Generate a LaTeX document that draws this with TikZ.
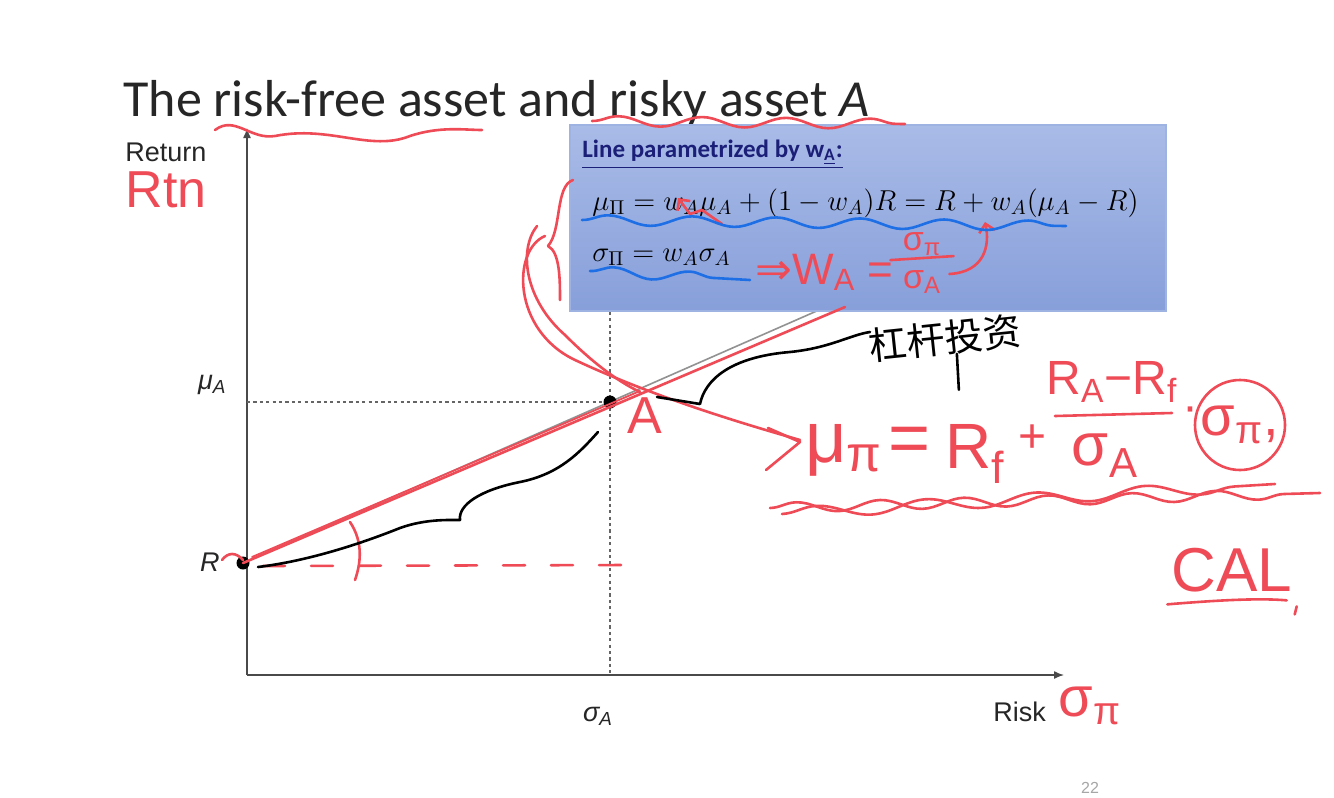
\documentclass[tikz,border=0pt]{standalone}
\usepackage[no-math]{fontspec}
\setmainfont{Liberation Sans}
\newfontfamily\slidefont{Carlito}
\newfontfamily\handfont{Liberation Sans}
\newfontfamily\symfont{DejaVu Sans}
\newfontfamily\cjk{Noto Sans CJK SC}
\usepackage{xcolor}
\definecolor{cAxis}{HTML}{4A4A4A}
\definecolor{cInk}{HTML}{EE4B57}
\definecolor{cPen}{HTML}{1E6FE6}
\definecolor{cNavy}{HTML}{1B1F78}
\definecolor{cBoxTop}{HTML}{A9BBE7}
\definecolor{cBoxBot}{HTML}{879FDA}
\definecolor{cBoxEdge}{HTML}{9FB3E2}
\usepackage{tikz}
\usetikzlibrary{positioning,arrows.meta,fit,calc,decorations.pathmorphing}
\newcommand\sizeto[1]{\fontsize{#1}{#1}\selectfont}
\tikzset{
  slide-title/.style={anchor=base west,inner sep=0pt,text=black!85,
    font=\slidefont\sizeto{26}},
  axis-label/.style={inner sep=0pt,text=black!85,font=\sizeto{13.5}},
  axis-line/.style={draw=cAxis,line width=0.7pt,-{Latex[length=5pt,width=4pt]}},
  guide-dotted/.style={draw=cAxis!85,line width=0.6pt,dash pattern=on 1.6pt off 1.6pt},
  dot-point/.style={circle,fill=black,inner sep=0pt,minimum size=6.5pt},
  param-box/.style={draw=cBoxEdge,line width=0.8pt,inner sep=0pt,
    top color=cBoxTop,bottom color=cBoxBot},
  eq-text/.style={anchor=base west,inner sep=0pt,font=\sizeto{14.4}},
  % handwriting on top of the slide
  ink-red/.style={draw=cInk,line width=1.3pt,line cap=round,line join=round},
  ink-blue/.style={draw=cPen,line width=1.3pt,line cap=round,line join=round},
  ink-black/.style={draw=black,line width=1.3pt,line cap=round,line join=round},
  ink-wave/.style={decorate,decoration={snake,amplitude=2.5pt,segment length=42pt}},
  hand-text/.style={inner sep=0pt,text=cInk,font=\handfont\sizeto{30}},
}

\begin{document}
\begin{tikzpicture}[x=0.5pt,y=-0.5pt]
  \useasboundingbox[fill=white] (0,0) rectangle (1334,798);
  \node[slide-title] (title) at (123,116) {The risk-free asset and risky asset \textit{A}};

  % axes and guides
  \coordinate (origin) at (247,675);
  \coordinate (yTop) at (247,128);
  \coordinate (xEnd) at (1064,675);
  \coordinate (ptR) at (243,563);
  \coordinate (ptA) at (610,402);
  \coordinate (lineEnd) at (819,310);
  \draw[axis-line] (origin) -- (yTop);
  \draw[axis-line] (origin) -- (xEnd);
  \node[axis-label,anchor=base west] (lblReturn) at (125,161) {Return};
  \node[axis-label,anchor=base west] (lblRisk) at (993,721) {Risk};
  \node[axis-label,anchor=base east] (lblMuA) at (227,389) {\itshape μ\textsubscript{A}};
  \node[axis-label,anchor=base east] (lblR) at (220,571) {\itshape R};
  \node[axis-label,anchor=base] (lblSigA) at (598,721) {\itshape σ\textsubscript{A}};
  \draw[guide-dotted] (ptA -| origin) -- (ptA);
  \draw[draw=cAxis!60,line width=0.8pt] (ptR) -- (lineEnd);

  % parameter box
  \node[param-box,fit={(570,125) (1166,311)}] (boxLine) {};
  \draw[guide-dotted] (ptA |- boxLine.south) -- (ptA |- origin);
  \node[anchor=base west,inner sep=0pt,text=cNavy,font=\slidefont\bfseries\sizeto{12.5}]
    (boxHead) at (582,157) {\underline{Line parametrized by w\textsubscript{\underline{A}}:}};
  \node[eq-text] (eqMu) at (592,210)
    {$\mu_\Pi = w_A\mu_A + \Bigl(1 - w_A\Bigr)R = R + w_A\Bigl(\mu_A - R\Bigr)$};
  \node[eq-text] (eqSig) at (592,261) {$\sigma_\Pi = w_A\sigma_A$};

  \node[dot-point] (dotR) at (ptR) {};
  \node[dot-point] (dotA) at (ptA) {};

  % red ink
  \draw[ink-red] (215,130) .. controls (235,115) and (250,140) .. (275,136)
    .. controls (330,125) and (370,152) .. (410,136) .. controls (440,126) and (465,130) .. (482,130);
  \draw[ink-red,ink-wave] (592,121) -- (905,124);
  \node[hand-text,font=\handfont\sizeto{26}] (hwRtn) at (166,190) {Rtn};
  \draw[ink-red] (573,180) .. controls (555,186) and (562,230) .. (548,246)
    .. controls (560,252) and (560,280) .. (560,300);
  \draw[ink-red] (545,236) .. controls (512,250) and (512,330) .. (575,360)
    .. controls (650,395) and (730,420) .. (800,440);
  \draw[ink-red] (537,226) .. controls (518,250) and (525,300) .. (565,335)
    .. controls (590,360) and (615,380) .. (640,392);
  \draw[ink-red] (768,428) -- (800,442) -- (766,470);
  \draw[ink-red] (ptR) -- (845,307);
  \draw[ink-red,line width=0.9pt] (252,557) -- (640,391);
  \draw[ink-red] (222,560) .. controls (228,552) and (236,552) .. (243,560);
  \draw[ink-red] (350,522) .. controls (362,540) and (362,560) .. (355,580);
  \draw[ink-red,dash pattern=on 11pt off 13pt] (ptR) ++(20,3) -- (630,565);
  \node[hand-text,font=\handfont\sizeto{26}] (hwA) at (645,416) {A};
  \draw[ink-red,-{Straight Barb[length=4pt]}] (722,224) -- (702,210) -- (690,214) -- (678,198);
  \node[hand-text,font=\handfont\sizeto{22},anchor=base west] (hwWA) at (755,284)
    {{\symfont ⇒}W\textsubscript{A} =};
  \node[hand-text,font=\handfont\sizeto{17}] (hwFracTop) at (922,244) {σ\textsubscript{π}};
  \node[hand-text,font=\handfont\sizeto{17}] (hwFracBot) at (922,282) {σ\textsubscript{A}};
  \draw[ink-red] (hwFracTop.south west) ++(-12,4) -- ($(hwFracTop.south east)+(12,0)$);
  \draw[ink-red,-{Straight Barb[length=4pt]}] (hwFracBot.east) ++(8,-8)
    .. controls (985,272) and (990,245) .. (985,222);

  % blue ink
  \draw[ink-blue,ink-wave] (582,220) -- (1066,226);
  \draw[ink-blue,ink-wave,decoration={segment length=38pt}] (590,271) -- (750,280);

  % black ink
  \draw[ink-black] (258,567) .. controls (300,562) and (350,548) .. (400,528)
    .. controls (425,519) and (448,520) .. (460,520) .. controls (458,505) and (480,490) .. (520,482)
    .. controls (560,474) and (580,452) .. (598,432);
  \draw[ink-black] (657,397) -- (700,404) .. controls (705,380) and (730,357) .. (790,352)
    .. controls (830,348) and (850,335) .. (870,332);
  \node[inner sep=0pt,font=\cjk\sizeto{19},rotate=6] (noteLever) at (945,338) {杠杆投资};
  \draw[ink-black] (noteLever.south) ++(10,-2) -- ++(2,36);

  % red formula
  \node[hand-text,font=\handfont\sizeto{36},anchor=base west] (hwMu) at (805,462) {μ\textsubscript{π}};
  \node[hand-text,font=\handfont\sizeto{36},anchor=base west] (hwEq) at (888,462) {=};
  \node[hand-text,font=\handfont\sizeto{32},anchor=base west] (hwRf) at (945,468) {R\textsubscript{f}};
  \node[hand-text,font=\handfont\sizeto{24},anchor=base west] (hwPlus) at (1018,452) {+};
  \node[hand-text,font=\handfont\sizeto{24}] (hwNum) at (1112,382) {R\textsubscript{A}−R\textsubscript{f}};
  \node[hand-text,font=\handfont\sizeto{30}] (hwDen) at (1105,456) {σ\textsubscript{A}};
  \draw[ink-red] (1055,416) -- (1172,413);
  \node[hand-text,font=\handfont\sizeto{24}] (hwDot) at (1190,415) {·};
  \node[hand-text,font=\handfont\sizeto{28}] (hwSig) at (1240,425) {σ\textsubscript{π},};
  \draw[ink-red] (hwSig) circle[radius=45];
  \draw[ink-red,ink-wave] (770,508) -- (1320,493);
  \draw[ink-red,ink-wave,decoration={segment length=55pt,amplitude=3pt}] (782,514) -- (1275,484);
  \node[hand-text,font=\handfont\sizeto{31}] (hwCAL) at (1232,570) {CAL};
  \draw[ink-red] ($(hwCAL.south west)+(-4,12)$) .. controls (1220,600) and (1260,598) .. ($(hwCAL.south east)+(-6,8)$);
  \draw[ink-red] ($(hwCAL.south east)+(4,14)$) -- ++(-2,8);
  \node[hand-text,font=\handfont\sizeto{28}] (hwSigRisk) at (1090,706) {σ\textsubscript{π}};

  \node[anchor=north,inner sep=0pt,text=black!35,font=\sizeto{8}] (pageNo) at (1090,782) {22};
\end{tikzpicture}
\end{document}
